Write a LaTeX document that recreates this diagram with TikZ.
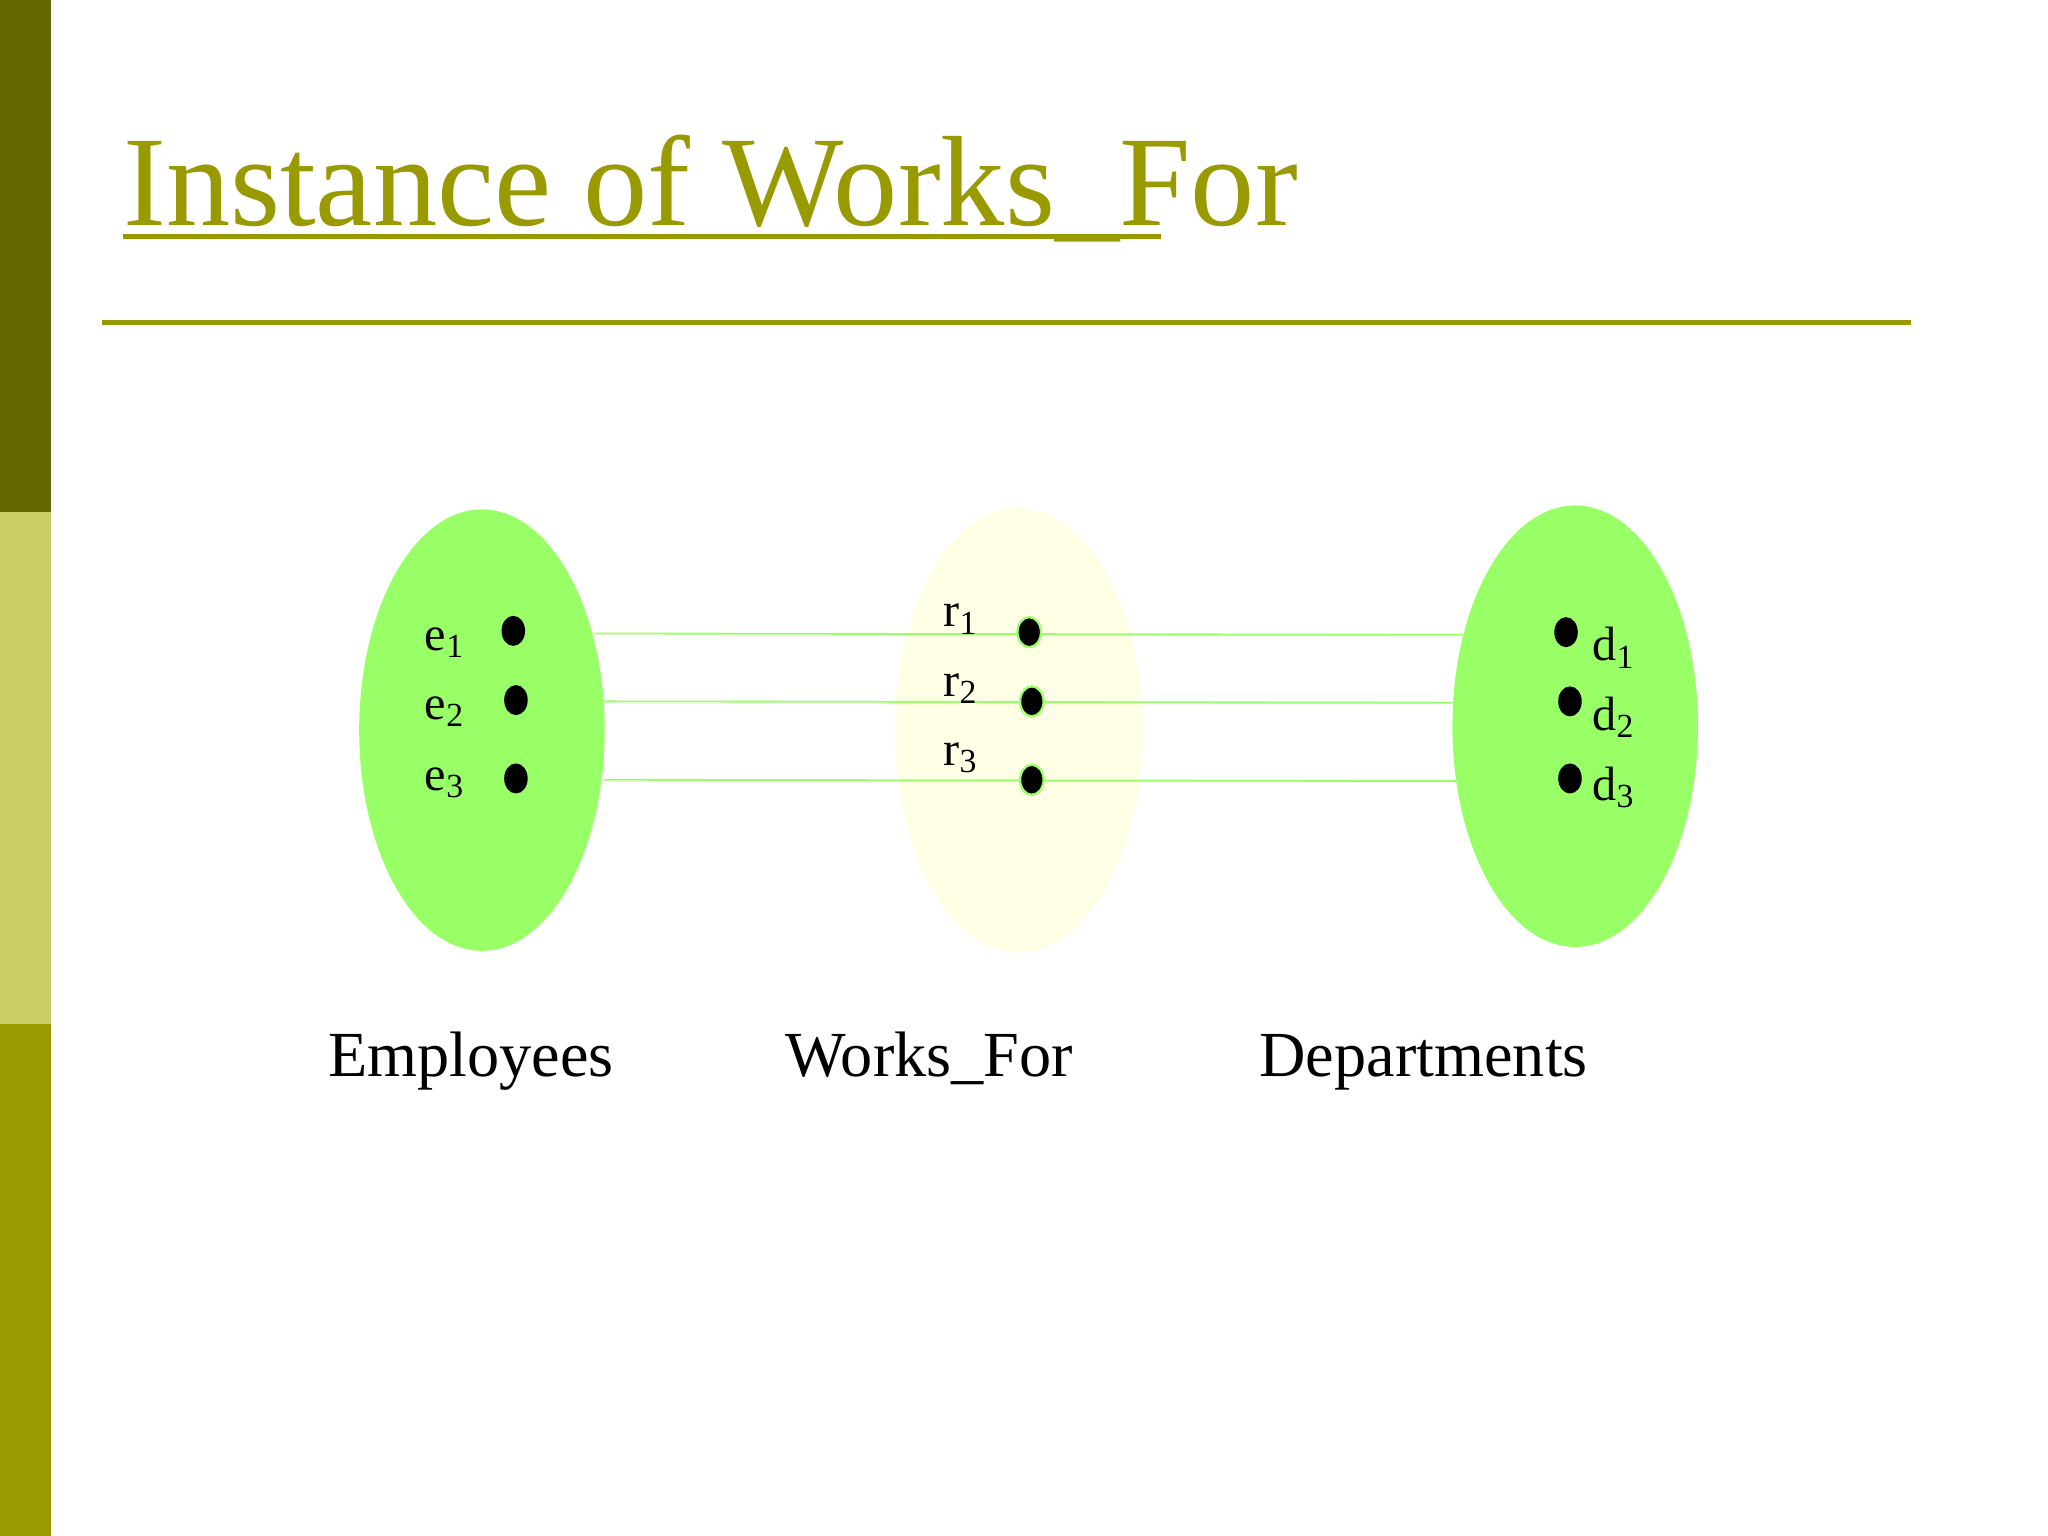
\documentclass[tikz,border=0pt]{standalone}
\usepackage{fontspec}
\setmainfont{Liberation Serif}
\definecolor{olive1}{HTML}{666600}
\definecolor{olive2}{HTML}{CCCC66}
\definecolor{olive3}{HTML}{999900}
\definecolor{setgreen}{HTML}{99FF66}
\definecolor{relfill}{HTML}{FFFFE6}
\definecolor{linkgreen}{HTML}{99FF66}
\usetikzlibrary{shapes.geometric}
\tikzset{
  setbox/.style={ellipse,minimum width=188*0.02cm,minimum height=338*0.02cm,inner sep=0pt},
  dotn/.style={ellipse,fill=black,minimum width=18*0.02cm,minimum height=23*0.02cm,inner sep=0pt},
  rdot/.style={dotn,draw=setgreen,line width=1pt},
  lbl/.style={font=\fontsize{21}{24}\selectfont,inner sep=0pt},
  captxt/.style={font=\fontsize{28}{32}\selectfont,anchor=base west,inner sep=0pt},
  link/.style={draw=linkgreen,line width=0.8pt}
}
\begin{document}
\begin{tikzpicture}[x=0.02cm,y=-0.02cm]
\useasboundingbox (0,0) rectangle (1568,1176);
\fill[white] (0,0) rectangle (1568,1176);
\fill[olive1] (0,0) rectangle (39,392);
\fill[olive2] (0,392) rectangle (39,784);
\fill[olive3] (0,784) rectangle (39,1176);
\node[anchor=base west,inner sep=0pt,text=olive3,font=\fontsize{56}{60}\selectfont] (title) at (94,173) {Instance of Works\_For};
\draw[olive3,line width=2pt] (94,181) -- (889,181);
\draw[olive3,line width=2.2pt] (78,247) -- (1463,247);
\node[setbox,fill=setgreen] (E) at (369,559) {};
\node[setbox,fill=relfill,minimum width=190*0.02cm,minimum height=340*0.02cm] (W) at (780,559) {};
\node[setbox,fill=setgreen] (D) at (1206,556) {};
\coordinate (a1) at (455,485); \coordinate (b1) at (1120,486);
\coordinate (a2) at (462,537); \coordinate (b2) at (1112,538);
\coordinate (a3) at (462,597); \coordinate (b3) at (1115,598);
\draw[link] (a1) -- (b1);
\draw[link] (a2) -- (b2);
\draw[link] (a3) -- (b3);
\node[dotn] (e1) at (393,483) {};
\node[dotn] (e2) at (395,536) {};
\node[dotn] (e3) at (395,596) {};
\node[rdot] (r1) at (788,484) {};
\node[rdot] (r2) at (790,537) {};
\node[rdot] (r3) at (790,597) {};
\node[dotn] (d1) at (1199,484) {};
\node[dotn] (d2) at (1202,537) {};
\node[dotn] (d3) at (1202,596) {};
\node[lbl,anchor=base west] (le1) at (325,498) {e\textsubscript{1}};
\node[lbl,anchor=base west] (le2) at (325,551) {e\textsubscript{2}};
\node[lbl,anchor=base west] (le3) at (325,605) {e\textsubscript{3}};
\node[lbl,anchor=base west] (lr1) at (722,480) {r\textsubscript{1}};
\node[lbl,anchor=base west] (lr2) at (722,533) {r\textsubscript{2}};
\node[lbl,anchor=base west] (lr3) at (722,586) {r\textsubscript{3}};
\node[lbl,anchor=base west] (ld1) at (1219,506) {d\textsubscript{1}};
\node[lbl,anchor=base west] (ld2) at (1219,559) {d\textsubscript{2}};
\node[lbl,anchor=base west] (ld3) at (1219,613) {d\textsubscript{3}};
\node[captxt] (cE) at (251,824) {Employees};
\node[captxt] (cW) at (601,824) {Works\_For};
\node[captxt] (cD) at (964,824) {Departments};
\end{tikzpicture}
\end{document}
